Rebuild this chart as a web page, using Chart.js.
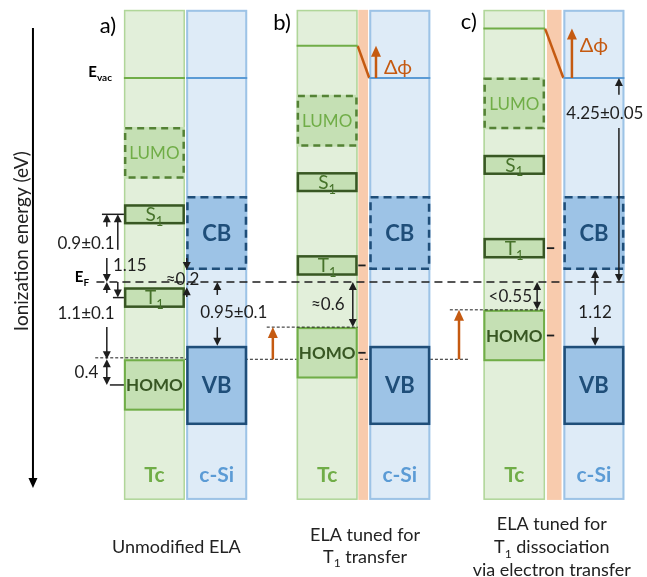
<!DOCTYPE html>
<html>
<head>
<meta charset="utf-8">
<script src="https://cdn.jsdelivr.net/npm/chart.js@4.4.1/dist/chart.umd.min.js"></script>
<style>
  html, body { margin: 0; padding: 0; background: #ffffff; }
  canvas { display: block; }
</style>
</head>
<body>
<canvas id="diagram" width="647" height="577"></canvas>
<script>
// ---- Energy-level data (schematic ionization energies in eV, measured downward from the c-Si vacuum level) ----
const panels = ['a)', 'b)', 'c)'];
const captions = [
  [[['Unmodified ELA']]],
  [[['ELA tuned for']], [['T'], ['1', true], [' transfer']]],
  [[['ELA tuned for']], [['T'], ['1', true], [' dissociation']], [['via electron transfer']]]
];
const dPhi = [0, 0.67, 1.03];                 // interlayer dipole: upward shift of all Tc levels
const eVac = 0;                               // c-Si vacuum level
const eFermi = 4.25;                          // Fermi level
const tcLevels = ['LUMO', 'S1', 'T1', 'HOMO'];
const tcTop    = [1.02, 2.63, 4.36, 5.86];    // Tc levels in panel a
const tcBottom = [2.10, 3.05, 4.79, 6.93];
const siLevels = ['CB', 'VB'];
const siTop    = [2.46, 5.58];
const siBottom = [4.00, 7.23];
const gapLabels = ['0.9±0.1', '1.15', '1.1±0.1', '0.4', '≈0.2', '0.95±0.1', '≈0.6', '<0.55', '4.25±0.05', '1.12'];

// ---- Layout (x in units of one material column width) ----
const tcSpan    = [[0, 1], [2.83, 3.83], [5.89, 6.90]];
const layerSpan = [null, [3.84, 4.00], [6.93, 7.17]];
const siSpan    = [[1.02, 2.02], [4.02, 5.02], [7.20, 8.20]];
const colTop = -1.42, colBottom = 8.79;

const FONT = 'Lato, "Open Sans", sans-serif';
const C = {
  tcFill: '#e2efda', tcEdge: '#b0d699', siFill: '#deebf7', siEdge: '#9dc3e6', layer: '#f8cbad',
  tcVac: '#70ad47', siVac: '#5b9bd5',
  lvlFill: '#c5e0b4', lumoEdge: '#548235', lumoText: '#70ad47',
  excEdge: '#385723', excText: '#46722a', homoEdge: '#70ad47', homoText: '#385723',
  bandFill: '#9dc3e6', bandEdge: '#1f4e79', bandText: '#1f4e79',
  orange: '#c55a11', ink: '#1e1e1e', tcText: '#70ad47', siText: '#5b9bd5'
};
const levelStyle = {
  LUMO: { edge: C.lumoEdge, dash: [7, 5], lw: 2.5 },
  S1:   { edge: C.excEdge, dash: [], lw: 2.5 },
  T1:   { edge: C.excEdge, dash: [], lw: 2.5 },
  HOMO: { edge: C.homoEdge, dash: [], lw: 2 },
  CB:   { edge: C.bandEdge, dash: [8, 5], lw: 2.5 },
  VB:   { edge: C.bandEdge, dash: [], lw: 2.5 }
};

const mid = i => (tcTop[i] + tcBottom[i]) / 2;
const homoTop = tcTop[3];

// ---- line datasets ----
function seg(x0, x1, y0, y1, color, width, dash, order) {
  return {
    data: [{ x: x0, y: y0 }, { x: x1, y: y1 }],
    showLine: true, borderColor: color, borderWidth: width, borderDash: dash || [],
    pointRadius: 0, pointHoverRadius: 0, order: order, clip: false
  };
}
const datasets = [];
panels.forEach((p, i) => {
  datasets.push(seg(tcSpan[i][0], tcSpan[i][1], eVac - dPhi[i], eVac - dPhi[i], C.tcVac, 2, [], 2));
  datasets.push(seg(siSpan[i][0], siSpan[i][1], eVac, eVac, C.siVac, 2, [], 2));
  if (layerSpan[i]) {
    datasets.push(seg(tcSpan[i][1], siSpan[i][0], eVac - dPhi[i], eVac, C.orange, 2.5, [], 2));
    // T1 and HOMO markers carried through the interlayer
    datasets.push(seg(layerSpan[i][0], layerSpan[i][0] + 0.12, mid(2) - dPhi[i], mid(2) - dPhi[i], C.ink, 1.8, [], 0));
    datasets.push(seg(layerSpan[i][0], layerSpan[i][0] + 0.12, mid(3) - dPhi[i], mid(3) - dPhi[i], C.ink, 1.8, [], 0));
  }
});
// Fermi level across all panels
datasets.push(seg(-0.45, 8.21, eFermi, eFermi, C.ink, 1.6, [8, 5], 2));
// unmodified HOMO reference
datasets.push(seg(tcSpan[0][1], 5.64, homoTop, homoTop, C.ink, 1, [3, 2], 2));
datasets.push(seg(-0.47, tcSpan[0][1], homoTop - 0.03, homoTop - 0.03, C.ink, 1, [3, 2], 0));
// shifted HOMO guides
datasets.push(seg(2.34, tcSpan[1][1], homoTop - dPhi[1], homoTop - dPhi[1], C.ink, 1, [3, 2], 0));
datasets.push(seg(5.34, tcSpan[2][1], homoTop - dPhi[2], homoTop - dPhi[2], C.ink, 1, [3, 2], 0));
// level ticks in panel a
datasets.push(seg(-0.36, tcSpan[0][0], mid(1), mid(1), C.ink, 1.5, [], 0));
datasets.push(seg(-0.18, tcSpan[0][0], mid(2), mid(2), C.ink, 1.5, [], 0));
datasets.push(seg(-0.23, tcSpan[0][0], mid(3), mid(3), C.ink, 1.5, [], 0));

// ---- drawing helpers ----
function fillText(ctx, s, x, yc, size, weight, color, align) {
  ctx.font = `${weight} ${size}px ${FONT}`;
  ctx.fillStyle = color;
  ctx.textAlign = align || 'center';
  ctx.textBaseline = 'alphabetic';
  ctx.fillText(s, x, yc + size * 0.36);
}
function richText(ctx, parts, x, y, size, weight, color, align) {
  const main = `${weight} ${size}px ${FONT}`, sub = `${weight} ${Math.round(size * 0.66)}px ${FONT}`;
  let w = 0;
  parts.forEach(p => { ctx.font = p[1] ? sub : main; w += ctx.measureText(p[0]).width; });
  let cx = align === 'right' ? x - w : align === 'left' ? x : x - w / 2;
  ctx.fillStyle = color; ctx.textAlign = 'left'; ctx.textBaseline = 'alphabetic';
  parts.forEach(p => {
    ctx.font = p[1] ? sub : main;
    ctx.fillText(p[0], cx, p[1] ? y + size * 0.25 : y);
    cx += ctx.measureText(p[0]).width;
  });
}

const energyDiagram = {
  id: 'energyDiagram',
  beforeDatasetsDraw(chart) {
    const ctx = chart.ctx, X = v => chart.scales.x.getPixelForValue(v), Y = v => chart.scales.y.getPixelForValue(v);
    chart.$levelsDrawn = false;
    const column = (span, fill, edge, lw) => {
      const x0 = X(span[0]), x1 = X(span[1]), y0 = Y(colTop), y1 = Y(colBottom);
      ctx.fillStyle = fill; ctx.fillRect(x0, y0, x1 - x0, y1 - y0);
      if (edge) { ctx.strokeStyle = edge; ctx.lineWidth = lw; ctx.setLineDash([]);
        ctx.strokeRect(x0 + lw / 2, y0 + lw / 2, x1 - x0 - lw, y1 - y0 - lw); }
    };
    ctx.save();
    panels.forEach((p, i) => {
      column(tcSpan[i], C.tcFill, C.tcEdge, 1.5);
      column(siSpan[i], C.siFill, C.siEdge, 2);
      if (layerSpan[i]) column(layerSpan[i], C.layer, null, 0);
    });
    ctx.restore();
  },
  beforeDatasetDraw(chart, args) {
    if (!chart.$levelsDrawn && chart.data.datasets[args.index].order === 0) {
      this.drawLevels(chart); chart.$levelsDrawn = true;
    }
  },
  drawLevels(chart) {
    const ctx = chart.ctx, X = v => chart.scales.x.getPixelForValue(v), Y = v => chart.scales.y.getPixelForValue(v);
    const box = (span, top, bottom, st) => {
      const x0 = X(span[0]), x1 = X(span[1]), y0 = Y(top), y1 = Y(bottom), h = st.lw / 2;
      ctx.fillStyle = st.fill || C.lvlFill; ctx.fillRect(x0, y0, x1 - x0, y1 - y0);
      ctx.strokeStyle = st.edge; ctx.lineWidth = st.lw; ctx.setLineDash(st.dash);
      ctx.strokeRect(x0 + h, y0 + h, x1 - x0 - 2 * h, y1 - y0 - 2 * h);
      ctx.setLineDash([]);
    };
    ctx.save();
    panels.forEach((p, i) => {
      tcLevels.forEach((name, k) => {
        const top = tcTop[k] - dPhi[i], bottom = tcBottom[k] - dPhi[i];
        box(tcSpan[i], top, bottom, levelStyle[name]);
        const cx = X((tcSpan[i][0] + tcSpan[i][1]) / 2), cy = Y((top + bottom) / 2);
        if (name === 'LUMO') fillText(ctx, 'LUMO', cx, cy, 17, 400, C.lumoText);
        else if (name === 'HOMO') fillText(ctx, 'HOMO', cx, cy, 17, 700, C.homoText);
        else richText(ctx, [[name[0]], [name[1], true]], cx, cy + 19 * 0.36, 19, 400, C.excText, 'center');
      });
      siLevels.forEach((name, k) => {
        box(siSpan[i], siTop[k], siBottom[k], Object.assign({ fill: C.bandFill }, levelStyle[name]));
        fillText(ctx, name, X((siSpan[i][0] + siSpan[i][1]) / 2), Y((siTop[k] + siBottom[k]) / 2), 22, 700, C.bandText);
      });
    });
    ctx.restore();
  },
  afterDatasetsDraw(chart) {
    if (!chart.$levelsDrawn) { this.drawLevels(chart); chart.$levelsDrawn = true; }
    const ctx = chart.ctx, X = v => chart.scales.x.getPixelForValue(v), Y = v => chart.scales.y.getPixelForValue(v);
    ctx.save();
    const head = (x, tip, dir, color, len, half) => {
      ctx.fillStyle = color; ctx.beginPath();
      ctx.moveTo(x, tip); ctx.lineTo(x - half, tip - dir * len); ctx.lineTo(x + half, tip - dir * len);
      ctx.closePath(); ctx.fill();
    };
    // arrow from value a to value b (head at b)
    const arrow = (x, a, b, color, lw, len, half) => {
      color = color || C.ink; lw = lw || 1.5; len = len || 8; half = half || 4;
      const px = X(x), y0 = Y(a), y1 = Y(b), dir = Math.sign(y1 - y0);
      ctx.strokeStyle = color; ctx.lineWidth = lw; ctx.setLineDash([]);
      ctx.beginPath(); ctx.moveTo(px, y0); ctx.lineTo(px, y1 - dir * (len - 1)); ctx.stroke();
      head(px, y1, dir, color, len, half);
    };
    const both = (x, a, b) => {
      const px = X(x), y0 = Y(a), y1 = Y(b);
      ctx.strokeStyle = C.ink; ctx.lineWidth = 1.5;
      ctx.beginPath(); ctx.moveTo(px, y0 + 7); ctx.lineTo(px, y1 - 7); ctx.stroke();
      head(px, y0, -1, C.ink, 8, 4); head(px, y1, 1, C.ink, 8, 4);
    };
    const label = (s, x, y, align) => fillText(ctx, s, X(x), Y(y), 17, 400, C.ink, align);

    // panel a
    arrow(-0.28, 3.10, mid(1)); arrow(-0.28, 3.75, eFermi); label(gapLabels[0], -0.62, 3.44);
    arrow(-0.10, 3.58, mid(1)); arrow(-0.10, eFermi, mid(2)); label(gapLabels[1], -0.18, 3.895, 'left');
    arrow(-0.28, 4.48, eFermi); arrow(-0.28, 5.19, homoTop); label(gapLabels[2], -0.62, 4.90);
    both(-0.28, homoTop, mid(3)); label(gapLabels[3], -0.42, (homoTop + mid(3)) / 2, 'right');
    arrow(1.03, 3.75, siBottom[0]); arrow(1.03, 4.56, tcTop[2]); label(gapLabels[4], 0.96, 4.19);
    arrow(1.53, 4.52, eFermi); arrow(1.53, 5.19, siTop[1]); label(gapLabels[5], 1.80, 4.875);
    // panel b
    both(3.75, eFermi, homoTop - dPhi[1]); label(gapLabels[6], 3.34, 4.71);
    arrow(2.44, homoTop, homoTop - dPhi[1], C.orange, 2.5, 11, 5);
    // panel c
    both(6.77, eFermi, homoTop - dPhi[2]); label(gapLabels[7], 6.33, 4.54);
    arrow(5.49, homoTop, homoTop - dPhi[2], C.orange, 2.5, 11, 5);
    arrow(8.11, 0.35, eVac); arrow(8.11, 1.04, eFermi); label(gapLabels[8], 7.88, 0.73);
    arrow(7.72, 4.52, siBottom[0]); arrow(7.72, 5.19, siTop[1]); label(gapLabels[9], 7.72, 4.875);

    // work-function shift arrows
    const dphiLabelY = [null, -0.23, -0.69];
    const dphiArrowX = [null, 4.13, 7.34];
    panels.forEach((p, i) => {
      if (!dPhi[i]) return;
      arrow(dphiArrowX[i], eVac, eVac - dPhi[i], C.orange, 2.5, 11, 5);
      fillText(ctx, 'Δϕ', X(dphiArrowX[i] + 0.13), Y(dphiLabelY[i]), 20, 400, C.orange, 'left');
    });

    // panel letters, material names and captions
    const letterX = [-0.26, 2.59, 5.65], letterY = [-1.10, -1.17, -1.19];
    const captionX = [0.86, 3.95, 7.01];
    const captionY = [[9.896], [9.656, 10.104], [9.417, 9.896, 10.375]];
    panels.forEach((p, i) => {
      fillText(ctx, p, X(letterX[i]), Y(letterY[i]), 22, 400, '#000');
      fillText(ctx, 'Tc', X((tcSpan[i][0] + tcSpan[i][1]) / 2), Y(8.26), 21, 700, C.tcText);
      fillText(ctx, 'c-Si', X((siSpan[i][0] + siSpan[i][1]) / 2), Y(8.26), 21, 700, C.siText);
      captions[i].forEach((line, j) => richText(ctx, line, X(captionX[i]), Y(captionY[i][j]), 18, 400, '#222', 'center'));
    });

    // level names on the left
    richText(ctx, [['E'], ['vac', true]], X(-0.195), Y(eVac) - 1, 15, 700, '#000', 'right');
    richText(ctx, [['E'], ['F', true]], X(-0.57), Y(eFermi), 15, 700, '#000', 'right');

    // ionization energy axis
    arrow(-1.49, -1.04, 8.54, '#000', 2, 10, 4.5);
    ctx.save();
    ctx.translate(X(-1.67), Y(3.40));
    ctx.rotate(-Math.PI / 2);
    ctx.font = `400 19px ${FONT}`; ctx.fillStyle = '#222'; ctx.textAlign = 'center'; ctx.textBaseline = 'middle';
    ctx.fillText('Ionization energy (eV)', 0, 0);
    ctx.restore();

    ctx.restore();
  }
};

new Chart(document.getElementById('diagram'), {
  type: 'scatter',
  data: { datasets: datasets },
  options: {
    responsive: false,
    animation: false,
    events: [],
    layout: { padding: 0 },
    plugins: { legend: { display: false }, tooltip: { enabled: false }, title: { display: false } },
    scales: {
      x: { type: 'linear', min: -2.03, max: 8.57, display: false },
      y: { type: 'linear', min: -1.625, max: 10.396, reverse: true, display: false }
    }
  },
  plugins: [energyDiagram]
});
</script>
</body>
</html>
